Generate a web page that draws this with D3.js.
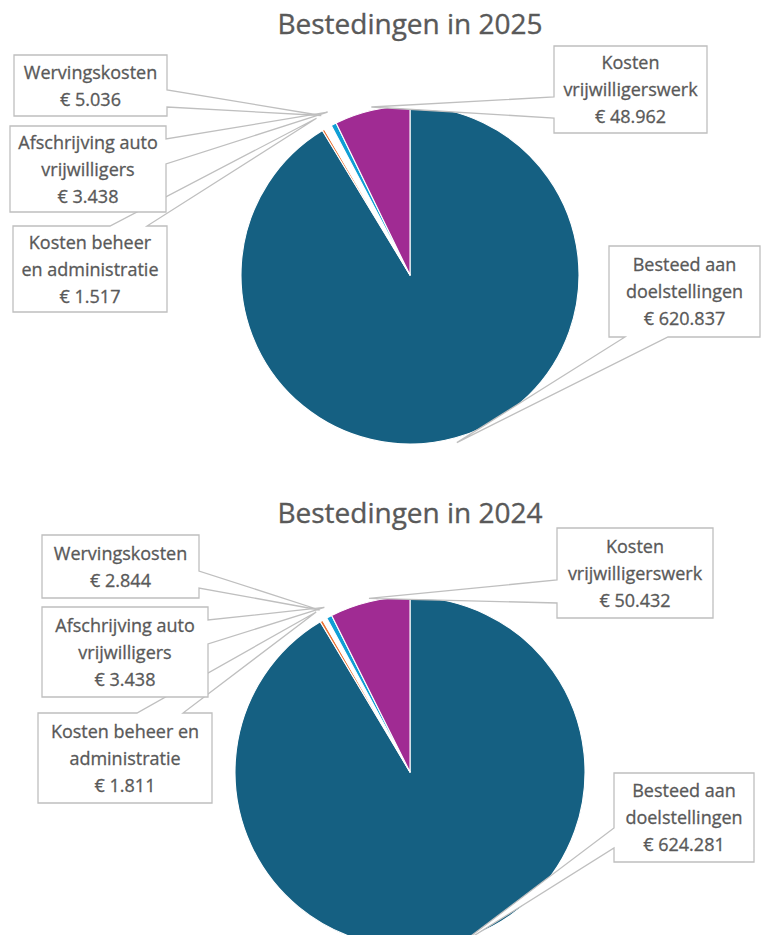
<!DOCTYPE html>
<html>
<head>
<meta charset="utf-8">
<script src="https://cdn.jsdelivr.net/npm/d3@7"></script>
<style>
  html, body { margin: 0; padding: 0; background: #fff; }
  svg { display: block; }
</style>
</head>
<body>
<svg id="chart" width="763" height="935"></svg>
<script>
// ---------- data ----------
const categories = [
  "Besteed aan doelstellingen",
  "Kosten beheer en administratie",
  "Wervingskosten",
  "Afschrijving auto vrijwilligers",
  "Kosten vrijwilligerswerk"
];
const values2025 = [620837, 1517, 5036, 3438, 48962];
const values2024 = [624281, 1811, 2844, 3438, 50432];
const titles = ["Bestedingen in 2025", "Bestedingen in 2024"];
const sliceColors = ["#156082", "#E97132", "#FFFFFF", "#0F9ED5", "#A02B93"];

// label line breaks per chart (text only)
const labelLines2025 = [
  ["Besteed aan", "doelstellingen"],
  ["Kosten beheer", "en administratie"],
  ["Wervingskosten"],
  ["Afschrijving auto", "vrijwilligers"],
  ["Kosten", "vrijwilligerswerk"]
];
const labelLines2024 = [
  ["Besteed aan", "doelstellingen"],
  ["Kosten beheer en", "administratie"],
  ["Wervingskosten"],
  ["Afschrijving auto", "vrijwilligers"],
  ["Kosten", "vrijwilligerswerk"]
];

// ---------- layout ----------
const charts = [
  {
    title: titles[0], values: values2025, lines: labelLines2025,
    cx: 410, cy: 275, r: 169, titleY: 34,
    boxes: [
      { x: 609, y: 246, w: 151, h: 91, side: "bottom", a: 625, b: 668, k: 1.03 },
      { x: 13, y: 226, w: 154, h: 86, side: "top", a: 110, b: 147, k: 1.08 },
      { x: 14, y: 55, w: 153, h: 61, side: "right", a: 90, b: 107, k: 1.08 },
      { x: 10, y: 126, w: 156, h: 86, side: "right", a: 139, b: 164, k: 1.08 },
      { x: 554, y: 46, w: 153, h: 87, side: "left", a: 97, b: 118, k: 1.02 }
    ]
  },
  {
    title: titles[1], values: values2024, lines: labelLines2024,
    cx: 410, cy: 772, r: 175, titleY: 523,
    boxes: [
      { x: 614, y: 773, w: 140, h: 89, side: "left", a: 828, b: 848, k: 1.03 },
      { x: 38, y: 713, w: 174, h: 90, side: "top", a: 137, b: 183, k: 1.06 },
      { x: 42, y: 535, w: 157, h: 63, side: "right", a: 571, b: 588, k: 1.06 },
      { x: 42, y: 607, w: 166, h: 90, side: "right", a: 620, b: 644, k: 1.06 },
      { x: 557, y: 528, w: 156, h: 90, side: "left", a: 580, b: 603, k: 1.02 }
    ]
  }
];

const FONT = "'Open Sans', 'Noto Sans', sans-serif";
const TEXT = "#595959";
const BORDER = "#BFBFBF";

const nl = d3.formatLocale({ decimal: ",", thousands: ".", grouping: [3], currency: ["€ ", ""] });
const fmt = v => "€ " + nl.format(",.0f")(v);

const svg = d3.select("#chart");

function calloutPath(bx, tip) {
  const { x, y, w, h, side, a, b } = bx;
  const [tx, ty] = tip;
  if (side === "right")
    return `M${x},${y}H${x + w}V${a}L${tx},${ty}L${x + w},${b}V${y + h}H${x}Z`;
  if (side === "left")
    return `M${x},${y}H${x + w}V${y + h}H${x}V${b}L${tx},${ty}L${x},${a}Z`;
  if (side === "top")
    return `M${x},${y}H${a}L${tx},${ty}L${b},${y}H${x + w}V${y + h}H${x}Z`;
  // bottom
  return `M${x},${y}H${x + w}V${y + h}H${b}L${tx},${ty}L${a},${y + h}H${x}Z`;
}

charts.forEach(c => {
  const g = svg.append("g");

  g.append("text")
    .attr("x", c.cx).attr("y", c.titleY)
    .attr("text-anchor", "middle")
    .attr("font-family", FONT).attr("font-size", 28)
    .attr("fill", TEXT)
    .attr("stroke", TEXT).attr("stroke-width", 0.35)
    .text(c.title);

  const pie = d3.pie().sort(null).value(d => d.value);
  const data = categories.map((name, i) => ({ name, value: c.values[i], i }));
  const arcs = pie(data);
  const arc = d3.arc().innerRadius(0).outerRadius(c.r);
  const color = d3.scaleOrdinal().domain(categories).range(sliceColors);

  const pg = g.append("g").attr("transform", `translate(${c.cx},${c.cy})`);
  pg.selectAll("path").data(arcs).join("path")
    .attr("d", arc)
    .attr("fill", d => color(d.data.name))
    .attr("stroke", "#fff")
    .attr("stroke-width", 1.1)
    .attr("stroke-linejoin", "round");

  // callouts (draw order so lower box wedge passes behind middle box)
  const order = [0, 4, 1, 3, 2];
  order.forEach(i => {
    const d = arcs[i];
    const bx = c.boxes[i];
    const mid = (d.startAngle + d.endAngle) / 2;
    const rr = c.r * bx.k;
    const tip = [c.cx + rr * Math.sin(mid), c.cy - rr * Math.cos(mid)];
    const lg = g.append("g");
    lg.append("path")
      .attr("d", calloutPath(bx, tip))
      .attr("fill", "#fff")
      .attr("stroke", BORDER)
      .attr("stroke-width", 1.3)
      .attr("stroke-linejoin", "miter");
    const lines = c.lines[i].concat([fmt(d.data.value)]);
    const n = lines.length;
    const ccy = bx.y + bx.h / 2;
    lg.selectAll("text").data(lines).join("text")
      .attr("x", bx.x + bx.w / 2)
      .attr("y", (t, j) => ccy + (j - (n - 1) / 2) * 27 + 6.5)
      .attr("text-anchor", "middle")
      .attr("font-family", FONT).attr("font-size", 18)
      .attr("fill", TEXT)
      .attr("stroke", TEXT).attr("stroke-width", 0.3)
      .text(t => t);
  });
});
</script>
</body>
</html>
